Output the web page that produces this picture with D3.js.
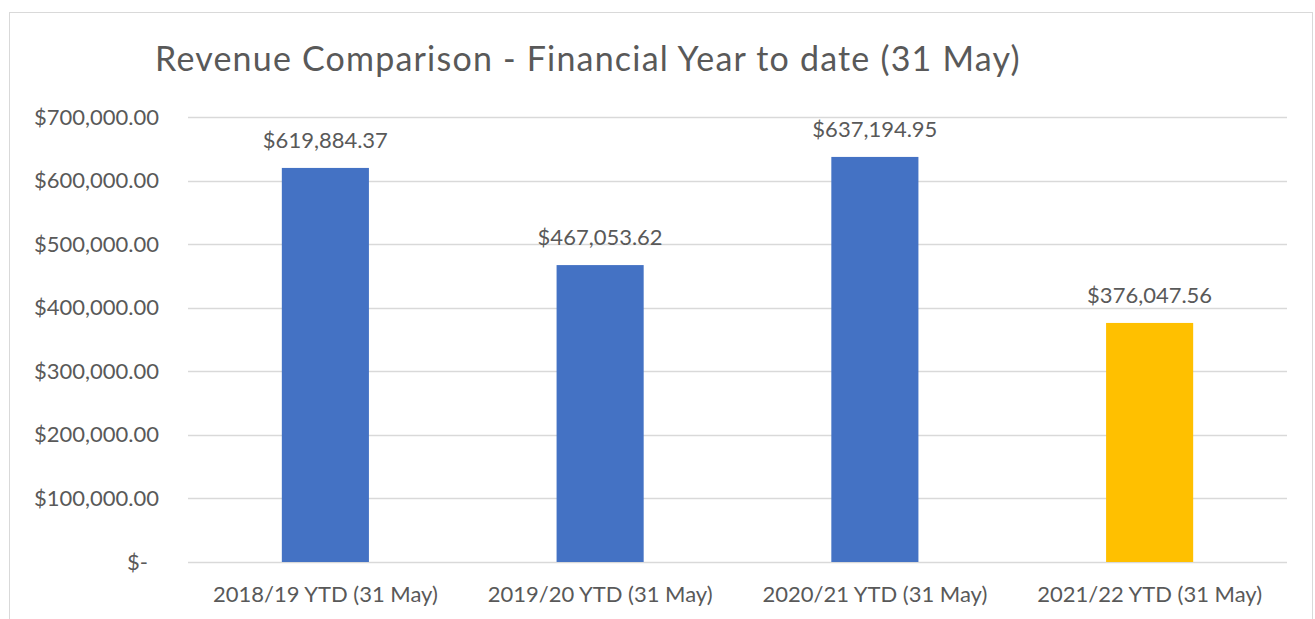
<html>
<head>
<script src="https://d3js.org/d3.v7.min.js"></script>
<style>
    body { margin: 0; background: #fff; }
    text { font-family: Lato, "Open Sans", sans-serif; fill: #595959; }
</style>
</head>
<body>
<svg id="chart"></svg>
<script>
    // data
    const categories = ["2018/19 YTD (31 May)", "2019/20 YTD  (31 May)", "2020/21 YTD (31 May)", "2021/22 YTD (31 May)"];
    const revenue = [619884.37, 467053.62, 637194.95, 376047.56];
    const barColors = ["#4472C4", "#4472C4", "#4472C4", "#FFC000"];
    const yTicks = [0, 100000, 200000, 300000, 400000, 500000, 600000, 700000];
    const title = "Revenue Comparison - Financial Year to date (31 May)";

    const width = 1315;
    const height = 619;
    const margin = {top: 117, right: 28, bottom: 57, left: 188};

    const svg = d3.select('#chart')
        .attr('width', width).attr('height', height);

    // chart frame
    svg.append('rect')
        .attr('x', 9.5).attr('y', 12.5)
        .attr('width', 1303).attr('height', 620)
        .attr('fill', '#fff')
        .attr('stroke', '#d9d9d9');

    const x = d3.scaleBand()
        .domain(categories)
        .range([margin.left, width - margin.right])
        .paddingInner(0.683)
        .paddingOuter(0.3415);

    const y = d3.scaleLinear()
        .domain([0, 700000])
        .range([height - margin.bottom, margin.top]);

    svg.append('text')
        .attr('x', 155).attr('y', 71)
        .style('font-size', '34px')
        .style('letter-spacing', '1.2px')
        .text(title);

    // gridlines
    svg.append('g')
        .selectAll('line')
        .data(yTicks)
        .enter().append('line')
        .attr('x1', margin.left).attr('x2', width - margin.right)
        .attr('y1', d => Math.round(y(d)) + 0.5)
        .attr('y2', d => Math.round(y(d)) + 0.5)
        .attr('stroke', '#d9d9d9')
        .attr('stroke-width', 1.5);

    const fmt = d3.format(',.2f');
    const money = d => d === 0 ? '$-' : '$' + fmt(d);

    const yAxis = svg.append('g')
        .attr('transform', 'translate(159,0)')
        .call(d3.axisLeft(y).tickValues(yTicks).tickSize(0).tickPadding(0).tickFormat(money));
    yAxis.select('.domain').remove();
    yAxis.selectAll('text')
        .style('font-size', '22px')
        .attr('fill', '#595959')
        .attr('dx', d => d === 0 ? -11 : 0);

    const xAxis = svg.append('g')
        .attr('transform', `translate(0,${height - margin.bottom})`)
        .call(d3.axisBottom(x).tickSize(0).tickPadding(24));
    xAxis.select('.domain').remove();
    xAxis.selectAll('text')
        .style('font-size', '22px')
        .attr('fill', '#595959');

    svg.append('g')
        .selectAll('rect')
        .data(revenue)
        .enter().append('rect')
        .attr('x', (d, i) => x(categories[i]))
        .attr('width', x.bandwidth())
        .attr('y', d => y(d))
        .attr('height', d => y(0) - y(d))
        .attr('fill', (d, i) => barColors[i]);

    svg.append('g')
        .selectAll('text')
        .data(revenue)
        .enter().append('text')
        .attr('x', (d, i) => x(categories[i]) + x.bandwidth() / 2)
        .attr('y', d => y(d) - 20)
        .attr('text-anchor', 'middle')
        .style('font-size', '22px')
        .text(d => '$' + fmt(d));
</script>
</body>
</html>
